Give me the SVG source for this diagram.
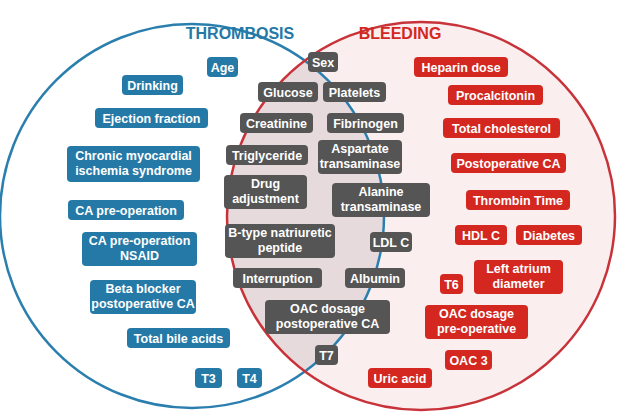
<svg xmlns="http://www.w3.org/2000/svg" width="640" height="414" viewBox="0 0 640 414">
<style>
text{font-family:"Liberation Sans",Arial,sans-serif;font-weight:bold;font-size:12.5px;fill:#fff;text-anchor:middle}
.b rect{fill:#2479a6}.g rect{fill:#555}.r rect{fill:#d3271f}
rect{rx:4}
.t{font-size:16px}
</style>
<defs><clipPath id="cl"><circle cx="192" cy="216" r="192"/></clipPath></defs>
<rect x="0" y="0" width="640" height="414" fill="#fff" rx="0"/>
<circle cx="192" cy="216" r="192" fill="#fff"/>
<circle cx="421" cy="216" r="194" fill="#fbeeee"/>
<circle cx="421" cy="216" r="194" fill="#e6dadd" clip-path="url(#cl)"/>
<circle cx="192" cy="216" r="192" fill="none" stroke="#2b7fae" stroke-width="2.5"/>
<circle cx="421" cy="216" r="194" fill="none" stroke="#c8333a" stroke-width="2.5"/>
<text class="t" x="240" y="39" style="fill:#2479a6">THROMBOSIS</text>
<text class="t" x="400" y="39" style="fill:#d3271f">BLEEDING</text>
<g class="b">
<g id="age"><rect x="207" y="57" width="31" height="20"/><text x="222.5" y="72">Age</text></g>
<g id="drinking"><rect x="122" y="75" width="61" height="20"/><text x="152.5" y="90">Drinking</text></g>
<g id="ef"><rect x="95" y="108" width="113" height="20"/><text x="151.5" y="123">Ejection fraction</text></g>
<g id="cmis"><rect x="67" y="146" width="133" height="36"/><text x="133.5" y="160">Chronic myocardial</text><text x="133.5" y="175">ischemia syndrome</text></g>
<g id="capre"><rect x="68" y="200" width="116" height="20"/><text x="126" y="215">CA pre-operation</text></g>
<g id="capren"><rect x="82" y="232" width="115" height="34"/><text x="139.5" y="245">CA pre-operation</text><text x="139.5" y="260">NSAID</text></g>
<g id="beta"><rect x="90" y="280" width="106" height="34"/><text x="143" y="293">Beta blocker</text><text x="143" y="308">postoperative CA</text></g>
<g id="tba"><rect x="127" y="328" width="103" height="20"/><text x="178.5" y="343">Total bile acids</text></g>
<g id="t3"><rect x="195" y="368" width="27" height="20"/><text x="208.5" y="383">T3</text></g>
<g id="t4"><rect x="237" y="368" width="25" height="20"/><text x="249.5" y="383">T4</text></g>
</g>
<g class="g">
<g id="sex"><rect x="308" y="52" width="30" height="20"/><text x="323" y="67">Sex</text></g>
<g id="glucose"><rect x="258" y="82" width="60" height="20"/><text x="288" y="97">Glucose</text></g>
<g id="platelets"><rect x="323" y="82" width="63" height="20"/><text x="354.5" y="97">Platelets</text></g>
<g id="creat"><rect x="240" y="113" width="73" height="20"/><text x="276.5" y="128">Creatinine</text></g>
<g id="fib"><rect x="327" y="113" width="77" height="20"/><text x="365.5" y="128">Fibrinogen</text></g>
<g id="trig"><rect x="226" y="145" width="82" height="20"/><text x="267" y="160">Triglyceride</text></g>
<g id="ast"><rect x="318" y="140" width="84" height="34"/><text x="360" y="153">Aspartate</text><text x="360" y="168">transaminase</text></g>
<g id="drug"><rect x="224" y="175" width="83" height="34"/><text x="265.5" y="188">Drug</text><text x="265.5" y="203">adjustment</text></g>
<g id="alt"><rect x="332" y="183" width="98" height="34"/><text x="381" y="196">Alanine</text><text x="381" y="211">transaminase</text></g>
<g id="bnp"><rect x="225" y="224" width="110" height="34"/><text x="280" y="237">B-type natriuretic</text><text x="280" y="252">peptide</text></g>
<g id="ldl"><rect x="370" y="232" width="42" height="20"/><text x="391" y="247">LDL C</text></g>
<g id="interr"><rect x="233" y="268" width="89" height="20"/><text x="277.5" y="283">Interruption</text></g>
<g id="alb"><rect x="345" y="268" width="60" height="20"/><text x="375" y="283">Albumin</text></g>
<g id="oacpost"><rect x="265" y="300" width="125" height="34"/><text x="327.5" y="313">OAC dosage</text><text x="327.5" y="328">postoperative CA</text></g>
<g id="t7"><rect x="315" y="345" width="23" height="20"/><text x="326.5" y="360">T7</text></g>
</g>
<g class="r">
<g id="hep"><rect x="414" y="57" width="94" height="20"/><text x="461" y="72">Heparin dose</text></g>
<g id="pct"><rect x="448" y="85" width="95" height="20"/><text x="495.5" y="100">Procalcitonin</text></g>
<g id="tc"><rect x="443" y="118" width="117" height="20"/><text x="501.5" y="133">Total cholesterol</text></g>
<g id="postca"><rect x="451" y="153" width="115" height="20"/><text x="508.5" y="168">Postoperative CA</text></g>
<g id="tt"><rect x="466" y="190" width="104" height="20"/><text x="518" y="205">Thrombin Time</text></g>
<g id="hdl"><rect x="455" y="225" width="52" height="20"/><text x="481" y="240">HDL C</text></g>
<g id="diab"><rect x="516" y="225" width="66" height="20"/><text x="549" y="240">Diabetes</text></g>
<g id="t6"><rect x="440" y="274" width="23" height="20"/><text x="451.5" y="289">T6</text></g>
<g id="lad"><rect x="474" y="260" width="89" height="34"/><text x="518.5" y="273">Left atrium</text><text x="518.5" y="288">diameter</text></g>
<g id="oacpre"><rect x="425" y="305" width="103" height="34"/><text x="476.5" y="318">OAC dosage</text><text x="476.5" y="333">pre-operative</text></g>
<g id="oac3"><rect x="445" y="350" width="47" height="20"/><text x="468.5" y="365">OAC 3</text></g>
<g id="uric"><rect x="368" y="368" width="64" height="20"/><text x="400" y="383">Uric acid</text></g>
</g>
<g id="connectors"/>
</svg>
